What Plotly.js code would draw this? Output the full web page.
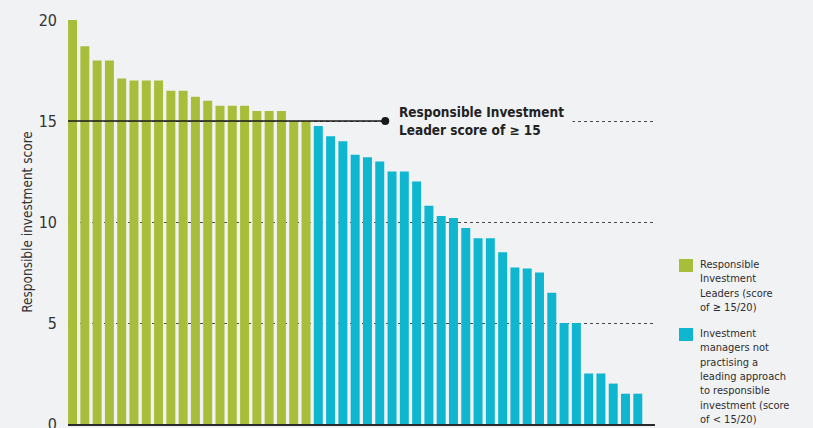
<!DOCTYPE html>
<html>
<head>
<meta charset="utf-8">
<script src="https://cdn.plot.ly/plotly-3.0.1.min.js"></script>
<style>html,body{margin:0;padding:0;background:#f1f2f4;}</style>
</head>
<body>
<div id="chart" style="width:813px;height:428px;"></div>
<script>
// Scores of Responsible Investment Leaders (>= 15/20), sorted
var leaderScores = [20, 18.7, 18, 18, 17.1, 17, 17, 17, 16.5, 16.5, 16.2, 16, 15.75, 15.75, 15.75, 15.5, 15.5, 15.5, 15, 15];
// Scores of other investment managers (< 15/20), sorted
var otherScores = [14.75, 14.25, 14, 13.33, 13.2, 13, 12.5, 12.5, 12, 10.8, 10.3, 10.2, 9.7, 9.2, 9.2, 8.5, 7.75, 7.7, 7.5, 6.5, 5, 5, 2.5, 2.5, 2, 1.5, 1.5];
var leaderName = 'Responsible<br>Investment<br>Leaders (score<br>of ≥ 15/20)';
var otherName = 'Investment<br>managers not<br>practising a<br>leading approach<br>to responsible<br>investment (score<br>of &lt; 15/20)';
var yTicks = [0, 5, 10, 15, 20];
var threshold = 15;
var yTitle = 'Responsible investment score';
var thresholdLabel = 'Responsible Investment<br>Leader score of ≥ 15';
var leaderColor = '#a8bd3a';
var otherColor = '#0fb6d0';

var FONT = '"Liberation Sans Narrow", "DejaVu Sans Condensed", "Arial Narrow", sans-serif';
var BG = '#f1f2f4';

var W = 813, H = 428, L = 68, R = 158, T = 20, B = 4;
var PW = W - L - R, PH = H - T - B;
function px(x) { return (x - L) / PW; }
function py(y) { return (H - B - y) / PH; }

var leaderX = leaderScores.map(function (_, i) { return i; });
var otherX = otherScores.map(function (_, i) { return leaderScores.length + i; });

var traces = [
  { type: 'bar', x: leaderX, y: leaderScores, name: leaderName,
    marker: { color: leaderColor, line: { width: 0 } }, hoverinfo: 'y' },
  { type: 'bar', x: otherX, y: otherScores, name: otherName,
    marker: { color: otherColor, line: { width: 0 } }, hoverinfo: 'y' }
];

var lineEndX = 25.45;

function legendSquare(color, top) {
  return { type: 'rect', xref: 'paper', yref: 'paper',
    x0: px(679), x1: px(693), y0: py(top + 13), y1: py(top),
    fillcolor: color, line: { width: 0 }, layer: 'above' };
}
function legendText(text, top) {
  return { text: text, xref: 'paper', yref: 'paper', x: px(698), y: py(top - 3),
    xanchor: 'left', yanchor: 'top', align: 'left', showarrow: false,
    font: { family: FONT, size: 11, color: '#2e2e2e' } };
}

var layout = {
  width: W, height: H,
  margin: { l: L, r: R, t: T, b: B, pad: 0 },
  paper_bgcolor: BG, plot_bgcolor: BG,
  barmode: 'relative', bargap: 0.27,
  font: { family: FONT, color: '#333' },
  showlegend: false,
  xaxis: {
    range: [-0.37, 47.4], showticklabels: false, showgrid: false, zeroline: false,
    showline: true, linecolor: '#2b2b2b', linewidth: 2, ticks: '', fixedrange: true
  },
  yaxis: {
    range: [0, 20], tickmode: 'array', tickvals: yTicks, ticktext: yTicks.map(String),
    showgrid: true, gridcolor: '#4a4a4a', griddash: 'dot', gridwidth: 1,
    zeroline: false, showline: false, ticks: '', ticklabelstandoff: 10,
    ticklabeloverflow: 'allow',
    tickfont: { family: FONT, size: 16, color: '#333' },
    title: { text: yTitle, font: { family: FONT, size: 13.5, color: '#333' }, standoff: 2 },
    fixedrange: true
  },
  shapes: [
    { type: 'line', xref: 'x', x0: -0.37, x1: lineEndX, yref: 'y', y0: threshold, y1: threshold,
      line: { color: '#1a1a1a', width: 1.6 }, layer: 'above' },
    { type: 'circle', xref: 'x', yref: 'y', xsizemode: 'pixel', ysizemode: 'pixel',
      xanchor: lineEndX, yanchor: threshold, x0: -4, x1: 4, y0: -4, y1: 4,
      fillcolor: '#1a1a1a', line: { width: 0 }, layer: 'above' },
    legendSquare(leaderColor, 259),
    legendSquare(otherColor, 328)
  ],
  annotations: [
    { text: '<b>' + thresholdLabel.replace('<br>', '</b><br><b>') + '</b>',
      xref: 'x', yref: 'y', x: 25.85, y: threshold, xanchor: 'left', yanchor: 'middle',
      align: 'left', showarrow: false, bgcolor: BG, borderpad: 8,
      font: { family: FONT, size: 13.5, color: '#222' } },
    legendText(leaderName, 259),
    legendText(otherName, 328)
  ]
};

Plotly.newPlot('chart', traces, layout, { displayModeBar: false, staticPlot: true });
</script>
</body>
</html>
